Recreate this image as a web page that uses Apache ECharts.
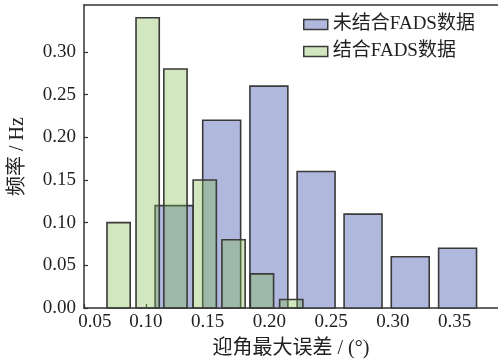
<!DOCTYPE html>
<html>
<head>
<meta charset="utf-8">
<script src="https://cdn.jsdelivr.net/npm/echarts@6/dist/echarts.min.js"></script>
<style>html,body{margin:0;padding:0;background:#fff;}#c{width:498px;height:364px;}</style>
</head>
<body>
<div id="c"></div>
<script>
// ---- data ----
const seriesNames = ['未结合FADS数据', '结合FADS数据'];
const blueCenters = [0.1229, 0.1614, 0.1996, 0.2378, 0.2758, 0.3140, 0.3523];
const blueValues  = [0.12, 0.22, 0.26, 0.16, 0.11, 0.06, 0.07];
const blueBinWidth = 0.0307;
const greenCenters = [0.0780, 0.1015, 0.1240, 0.1477, 0.1710, 0.1940, 0.2177];
const greenValues  = [0.10, 0.34, 0.28, 0.15, 0.08, 0.04, 0.01];
const greenBinWidth = 0.0188;
const xTicks = [0.05, 0.10, 0.15, 0.20, 0.25, 0.30, 0.35];
const yTicks = [0.00, 0.05, 0.10, 0.15, 0.20, 0.25, 0.30];
const xName = '迎角最大误差 / (°)';
const yName = '频率 / Hz';

const FONT = '"Liberation Serif", "Noto Sans CJK SC", serif';
const chart = echarts.init(document.getElementById('c'), null, {renderer: 'canvas'});

function mk(centers, values, w) {
  return centers.map((c, i) => [c, values[i], w]);
}
function renderBar(fill, stroke) {
  return function (params, api) {
    const c = api.value(0), v = api.value(1), w = api.value(2);
    const p0 = api.coord([c - w / 2, v]);
    const p1 = api.coord([c + w / 2, 0]);
    return {
      type: 'rect',
      shape: {x: p0[0], y: p0[1], width: p1[0] - p0[0], height: p1[1] - p0[1]},
      style: {fill: fill, stroke: stroke, lineWidth: 1.6}
    };
  };
}

const blueFill = '#b0b8dd';
const greenFill = 'rgba(126,186,75,0.35)';
const edge = '#3a3a3a';

chart.setOption({
  animation: false,
  grid: {left: 83, right: 0, top: 5, bottom: 56},
  legend: {
    orient: 'vertical', left: 303, top: 15, itemGap: 8, padding: 0,
    itemWidth: 24, itemHeight: 10,
    textStyle: {fontFamily: FONT, fontSize: 19, color: '#222'},
    data: [
      {name: seriesNames[0], icon: 'rect', itemStyle: {color: blueFill, borderColor: edge, borderWidth: 1.5}},
      {name: seriesNames[1], icon: 'rect', itemStyle: {color: '#d2e7c0', borderColor: edge, borderWidth: 1.5}}
    ]
  },
  xAxis: [{
    type: 'value', min: 0.05, max: 0.385, interval: 0.05,
    name: xName, nameLocation: 'middle', nameGap: 31,
    nameTextStyle: {fontFamily: FONT, fontSize: 20, color: '#222'},
    axisLine: {show: true, onZero: false, lineStyle: {color: '#333', width: 1.5}},
    axisTick: {show: true, inside: true, length: 4, customValues: xTicks, lineStyle: {color: '#333', width: 1.2}},
    axisLabel: {
      customValues: xTicks, margin: 5,
      fontFamily: FONT, fontSize: 19, color: '#222',
      formatter: function (v) { return Math.abs(v - 0.05) < 1e-6 ? '{a|' + v.toFixed(2) + '}' : v.toFixed(2); },
      rich: {a: {fontFamily: FONT, fontSize: 19, color: '#222', padding: [0, 0, 0, 22]}}
    },
    splitLine: {show: false}
  }, {
    type: 'value', position: 'top', min: 0.05, max: 0.385,
    axisLine: {show: true, onZero: false, lineStyle: {color: '#333', width: 1.5}},
    axisTick: {show: false}, axisLabel: {show: false}, splitLine: {show: false}
  }],
  yAxis: {
    type: 'value', min: 0, max: 0.355, interval: 0.05,
    name: yName, nameLocation: 'middle', nameGap: 56, nameRotate: 90,
    nameTextStyle: {fontFamily: FONT, fontSize: 20, color: '#222'},
    axisLine: {show: true, onZero: false, lineStyle: {color: '#333', width: 1.5}},
    axisTick: {show: true, inside: true, length: 4, customValues: yTicks, lineStyle: {color: '#333', width: 1.2}},
    axisLabel: {customValues: yTicks, margin: 8, fontFamily: FONT, fontSize: 19, color: '#222',
      formatter: function (v) { return v.toFixed(2); }},
    splitLine: {show: false}
  },
  series: [{
    name: seriesNames[0], type: 'custom',
    itemStyle: {color: blueFill, borderColor: edge},
    renderItem: renderBar(blueFill, edge),
    encode: {x: 0, y: 1},
    data: mk(blueCenters, blueValues, blueBinWidth), z: 2
  }, {
    name: seriesNames[1], type: 'custom',
    itemStyle: {color: '#d2e7c0', borderColor: edge},
    renderItem: renderBar(greenFill, edge),
    encode: {x: 0, y: 1},
    data: mk(greenCenters, greenValues, greenBinWidth), z: 3
  }]
});
</script>
</body>
</html>
